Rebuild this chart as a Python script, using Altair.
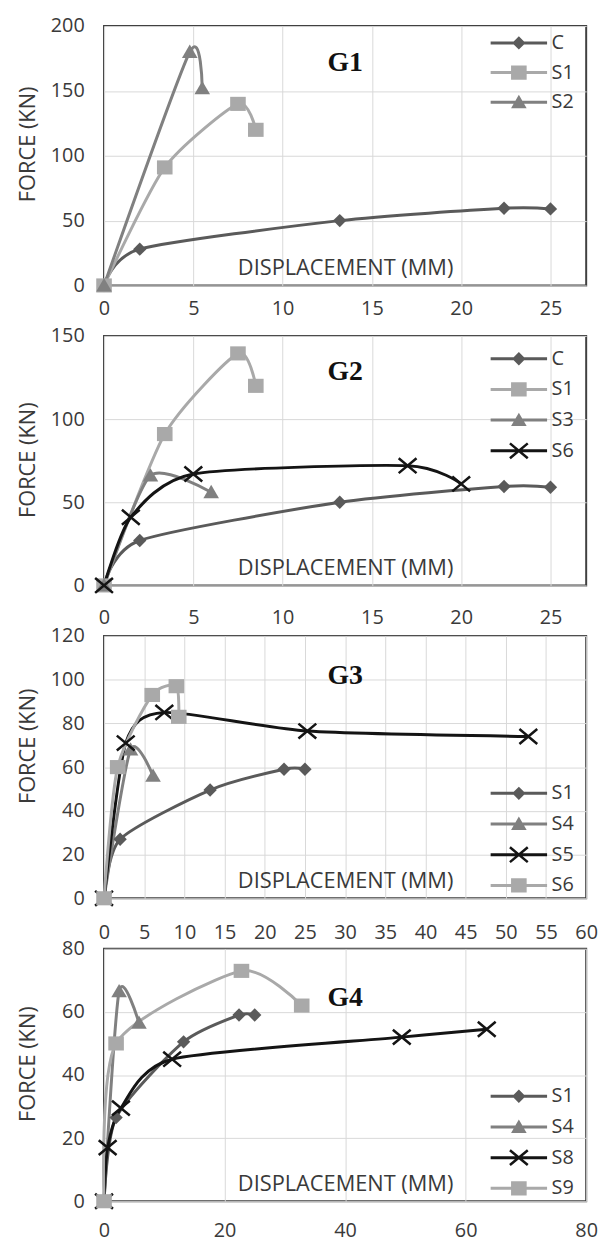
import altair as alt
import pandas as pd

FONT = "Open Sans"
TXT = "#3a3a3a"

# ---------------- data ----------------
# G1
g1_labels = ["C", "S1", "S2"]
g1_c_x = [0, 2.0, 13.2, 22.4, 25.0]
g1_c_y = [0, 28, 50, 59.5, 59]
g1_s1_x = [0, 3.4, 7.5, 8.5]
g1_s1_y = [0, 91, 140, 120]
g1_s2_x = [0, 4.8, 5.5]
g1_s2_y = [0, 180, 152]

# G2
g2_labels = ["C", "S1", "S3", "S6"]
g2_c_x = [0, 2.0, 13.2, 22.4, 25.0]
g2_c_y = [0, 27, 50, 59.5, 59]
g2_s1_x = [0, 3.4, 7.5, 8.5]
g2_s1_y = [0, 91, 139.5, 120]
g2_s3_x = [0, 2.6, 6.0]
g2_s3_y = [0, 66, 56]
g2_s6_x = [0, 1.5, 5.0, 17.0, 20.0]
g2_s6_y = [0, 41, 67, 72, 61]

# G3
g3_labels = ["S1", "S4", "S5", "S6"]
g3_s1_x = [0, 2.0, 13.2, 22.4, 25.0]
g3_s1_y = [0, 27, 49.5, 59, 59]
g3_s4_x = [0, 3.3, 6.1]
g3_s4_y = [0, 68, 56]
g3_s5_x = [0, 2.7, 7.5, 25.3, 52.8]
g3_s5_y = [0, 71, 85, 76.5, 74]
g3_s6_x = [0, 1.7, 6.0, 9.0, 9.3]
g3_s6_y = [0, 60, 93, 97, 83]

# G4
g4_labels = ["S1", "S4", "S8", "S9"]
g4_s1_x = [0, 2.0, 13.2, 22.4, 25.0]
g4_s1_y = [0, 26.5, 50.5, 59, 59]
g4_s4_x = [0, 2.5, 5.8]
g4_s4_y = [0, 66.5, 56.5]
g4_s8_x = [0, 0.6, 2.8, 11.3, 49.4, 63.5]
g4_s8_y = [0, 17, 29.5, 45, 52, 54.5]
g4_s9_x = [0, 2.0, 22.8, 32.8]
g4_s9_y = [0, 50, 73, 62]

# ---------------- marker styles ----------------
DIAMOND = "M0,-0.9L0.9,0L0,0.9L-0.9,0Z"
SQUARE = "M-1.05,-0.95H1.05V0.95H-1.05Z"
TRIANGLE = "M0,-1L1.05,0.8H-1.05Z"
XMARK = ("M-1.091,-1.131L1.309,0.869L1.091,1.131L-1.309,-0.869Z"
         "M1.309,-0.869L-1.091,1.131L-1.309,0.869L1.091,-1.131Z")
LINESEG = "M-3.8,-0.2H3.8V0.2H-3.8Z"

STYLES = {
    "diamond": ("#5a5a5a", DIAMOND),
    "square": ("#a9a9a9", SQUARE),
    "tri": ("#808080", TRIANGLE),
    "x": ("#141414", XMARK),
}


def panel(name, series, xdom, xticks, ydom, yticks, w, h,
          title_off, title_dy, leg_x, leg_y, row_pad, xlab_pad, ytitle_y):
    rows = []
    for label, xs, ys, style in series:
        for i, (xv, yv) in enumerate(zip(xs, ys)):
            rows.append(dict(series=label, lg=label, i=i, x=xv, y=yv))
    df = pd.DataFrame(rows)
    labels = [s[0] for s in series]
    colors = [STYLES[s[3]][0] for s in series]
    marks = [STYLES[s[3]][1] for s in series]
    legs = [LINESEG + STYLES[s[3]][1] for s in series]

    xenc = alt.X("x:Q", scale=alt.Scale(domain=xdom, nice=False, zero=False),
                 axis=alt.Axis(values=xticks, title="DISPLACEMENT (MM)",
                               labelPadding=xlab_pad, titleY=-18,
                               titleBaseline="middle", labelFlush=False))
    yenc = alt.Y("y:Q", scale=alt.Scale(domain=ydom, nice=False),
                 axis=alt.Axis(values=yticks, title="FORCE (KN)",
                               labelPadding=20, titleX=-77, titleY=ytitle_y,
                               titleBaseline="middle", titleAlign="center",
                               labelFlush=False))
    base = alt.Chart(df)
    lines = base.mark_line(interpolate="cardinal", tension=0.3, strokeWidth=3).encode(
        x=xenc, y=yenc,
        color=alt.Color("series:N", scale=alt.Scale(domain=labels, range=colors), legend=None),
        order=alt.Order("i:Q"),
    )
    pts = base.mark_point(filled=True, opacity=1, size=225).encode(
        x=xenc, y=yenc,
        color=alt.Color("series:N", scale=alt.Scale(domain=labels, range=colors), legend=None),
        shape=alt.Shape("series:N", scale=alt.Scale(domain=labels, range=marks), legend=None),
    )
    leg_opts = dict(orient="none", legendX=leg_x, legendY=leg_y, title=None,
                    labelFont=FONT, labelFontSize=20, labelColor=TXT,
                    symbolSize=225, labelOffset=23, rowPadding=row_pad, padding=0,
                    symbolStrokeWidth=0, symbolOpacity=1)
    leg = base.transform_filter("false").mark_point(filled=True, opacity=1, size=225).encode(
        x=xenc, y=yenc,
        color=alt.Color("lg:N", scale=alt.Scale(domain=labels, range=colors),
                        legend=alt.Legend(**leg_opts)),
        shape=alt.Shape("lg:N", scale=alt.Scale(domain=labels, range=legs),
                        legend=alt.Legend(**leg_opts)),
    )
    return alt.layer(lines, pts, leg).resolve_scale(
        color="independent", shape="independent"
    ).properties(
        width=w, height=h,
        title=alt.TitleParams(text=name, font="Liberation Serif", fontSize=28,
                              fontWeight="bold", color="#111111", anchor="middle",
                              frame="group", baseline="middle", offset=-title_off,
                              dy=title_dy),
    )


p1 = panel("G1",
           [("C", g1_c_x, g1_c_y, "diamond"),
            ("S1", g1_s1_x, g1_s1_y, "square"),
            ("S2", g1_s2_x, g1_s2_y, "tri")],
           [0, 27], [0, 5, 10, 15, 20, 25], [0, 200], [0, 50, 100, 150, 200],
           487, 262, 36, 39, 409, 7, 10, 13, 119)
p2 = panel("G2",
           [("C", g2_c_x, g2_c_y, "diamond"),
            ("S1", g2_s1_x, g2_s1_y, "square"),
            ("S3", g2_s3_x, g2_s3_y, "tri"),
            ("S6", g2_s6_x, g2_s6_y, "x")],
           [0, 27], [0, 5, 10, 15, 20, 25], [0, 150], [0, 50, 100, 150],
           487, 252, 35, 40, 409, 13, 11, 22, 125)
p3 = panel("G3",
           [("S1", g3_s1_x, g3_s1_y, "diamond"),
            ("S4", g3_s4_x, g3_s4_y, "tri"),
            ("S5", g3_s5_x, g3_s5_y, "x"),
            ("S6", g3_s6_x, g3_s6_y, "square")],
           [0, 60], list(range(0, 61, 5)), [0, 120], [0, 20, 40, 60, 80, 100, 120],
           487, 265, 40, 39, 409, 149, 11, 25, 111)
p4 = panel("G4",
           [("S1", g4_s1_x, g4_s1_y, "diamond"),
            ("S4", g4_s4_x, g4_s4_y, "tri"),
            ("S8", g4_s8_x, g4_s8_y, "x"),
            ("S9", g4_s9_x, g4_s9_y, "square")],
           [0, 80], [0, 20, 40, 60, 80], [0, 80], [0, 20, 40, 60, 80],
           487, 255, 49, 39, 409, 139, 11, 20, 116)

chart = alt.vconcat(p1, p2, p3, p4, spacing=51, bounds="flush").properties(
    padding={"left": 7, "top": 1, "right": 5, "bottom": 0},
    background="white",
).configure_view(
    stroke="#404040", strokeWidth=2
).configure_axis(
    labelFont=FONT, labelFontSize=20, labelColor=TXT,
    titleFont=FONT, titleFontSize=22, titleColor=TXT, titleFontWeight="normal",
    grid=True, gridColor="#d9d9d9", gridWidth=1,
    ticks=False, tickSize=0, domain=False,
)

chart.save("out.html", embed_options={"renderer": "svg", "actions": False})
